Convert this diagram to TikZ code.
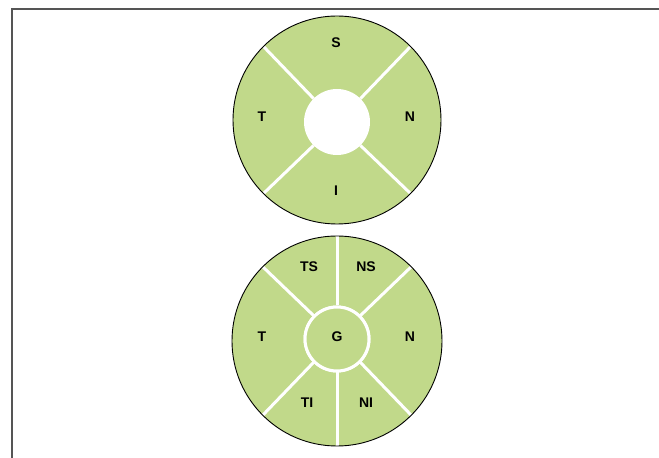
\documentclass[tikz,border=0pt]{standalone}
\usepackage{fontspec}
\setmainfont{Liberation Sans}
\usepackage{xcolor}
\usetikzlibrary{positioning}
\definecolor{zonegreen}{RGB}{193,217,138}
\definecolor{framegray}{RGB}{85,85,85}

\begin{document}
\begin{tikzpicture}[
  x=1pt, y=1pt,
  disc/.style={circle, fill=zonegreen, inner sep=0pt, minimum size=#1},
  hole/.style={circle, fill=white, inner sep=0pt, minimum size=#1},
  ring/.style={circle, draw=white, line width=3pt, fill=zonegreen,
    inner sep=0pt, minimum size=#1},
  rim/.style={circle, draw=black, line width=0.9pt, inner sep=0pt,
    minimum size=#1},
  divider/.style={draw=white, line width=3pt},
  lbl/.style={font=\fontsize{14}{16}\selectfont\bfseries, inner sep=0pt}
]
\useasboundingbox (0,0) rectangle (659,458);
% frame
\coordinate (ftl) at (12,449);
\coordinate (ftr) at (659,449);
\coordinate (fbl) at (12,0);
\draw[framegray, line width=1.8pt] (fbl) -- (ftl) -- (ftr);

% upper chart
\node[disc=208pt] (topdisc) at (337,338) {};
\node[hole=66pt] (tophole) at (337,336) {};
\foreach \a in {45,135,225,315}
  \draw[divider] (tophole.\a) -- (topdisc.\a);
\node[rim=208pt] (toprim) at (topdisc) {};
\node[lbl] (ts) at (336,415) {S};
\node[lbl] (tt) at (262,341) {T};
\node[lbl] (tn) at (410,341) {N};
\node[lbl] (ti) at (336,267) {I};

% lower chart
\node[disc=210pt] (botdisc) at (337,117) {};
\node[ring=64pt] (botring) at (337,119) {};
\foreach \a in {45,90,135,225,270,315}
  \draw[divider] (botring.\a) -- (botdisc.\a);
\node[ring=64pt] (botring2) at (botring) {};
\node[rim=210pt] (botrim) at (botdisc) {};
\node[lbl] (bts) at (309,191) {TS};
\node[lbl] (bns) at (366,191) {NS};
\node[lbl] (bt) at (262,121) {T};
\node[lbl] (bg) at (337,121) {G};
\node[lbl] (bn) at (410,121) {N};
\node[lbl] (bti) at (307,55) {TI};
\node[lbl] (bni) at (366,55) {NI};
\end{tikzpicture}
\end{document}
